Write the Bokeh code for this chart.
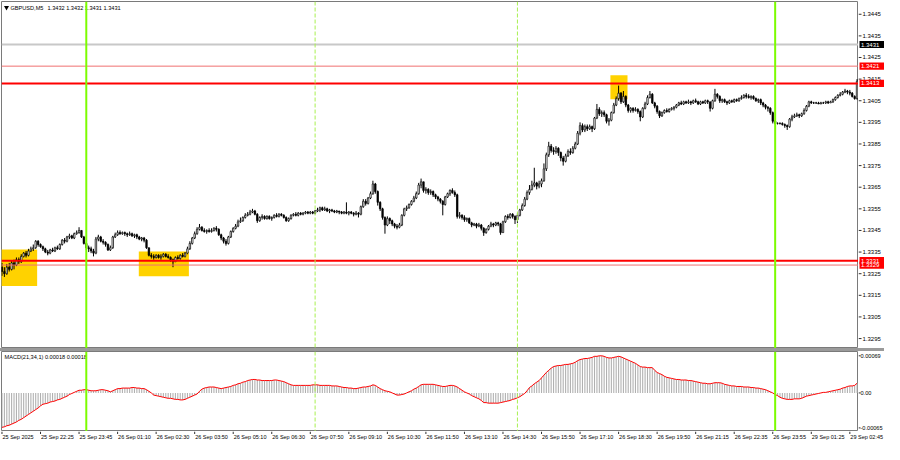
from bokeh.plotting import figure
from bokeh.layouts import column, row
from bokeh.models import ColumnDataSource, Span, Spacer
from bokeh.core.properties import value
from bokeh.embed import file_html
from bokeh.resources import INLINE

# ---------------- data (GBPUSD M5) ----------------
OPEN = [
    1.3328, 1.3326, 1.3325, 1.3328, 1.3327, 1.3330, 1.3329, 1.33315, 1.33305, 1.3333,
    1.33345, 1.33335, 1.33355, 1.33365, 1.3337, 1.3340, 1.33385, 1.33375, 1.33365, 1.3335,
    1.33345, 1.3336, 1.33355, 1.3337, 1.33365, 1.33385, 1.33405, 1.3340, 1.3342, 1.33425,
    1.33415, 1.33435, 1.3344, 1.3345, 1.3342, 1.3339, 1.3337, 1.33365, 1.33355, 1.33345,
    1.3341, 1.3342, 1.3340, 1.33395, 1.33385, 1.3336, 1.3337, 1.3342, 1.3343, 1.3344,
    1.33435, 1.3344, 1.33435, 1.3343, 1.33435, 1.33425, 1.3343, 1.3342, 1.3341, 1.33415,
    1.33405, 1.3337, 1.33335, 1.3333, 1.33325, 1.33335, 1.33325, 1.3333, 1.3334, 1.3333,
    1.33325, 1.33315, 1.33305, 1.33325, 1.3332, 1.33335, 1.3333, 1.33345, 1.33365, 1.3339,
    1.33415, 1.33435, 1.33455, 1.33465, 1.3345, 1.33445, 1.3345, 1.33445, 1.3345, 1.3346,
    1.33455, 1.3343, 1.33415, 1.3340, 1.3339, 1.3342, 1.33445, 1.3346, 1.3347, 1.3349,
    1.33495, 1.3351, 1.3352, 1.33525, 1.33535, 1.3354, 1.33525, 1.33495, 1.3351, 1.33515,
    1.33505, 1.33515, 1.33505, 1.3351, 1.3352, 1.33515, 1.33525, 1.3352, 1.3351, 1.33495,
    1.33505, 1.3352, 1.33525, 1.3352, 1.3353, 1.33525, 1.3353, 1.33535, 1.3353, 1.33535,
    1.3353, 1.3354, 1.33545, 1.33555, 1.33545, 1.3355, 1.3354, 1.33545, 1.3354, 1.33535,
    1.3354, 1.33535, 1.3353, 1.33535, 1.3353, 1.33535, 1.3353, 1.33525, 1.3353, 1.33525,
    1.3356, 1.33585, 1.33575, 1.3360, 1.3362, 1.33665, 1.3363, 1.3358, 1.3355, 1.3351,
    1.33475, 1.33505, 1.33495, 1.3348, 1.3347, 1.33465, 1.33475, 1.3352, 1.3355, 1.33555,
    1.3357, 1.33585, 1.3360, 1.3362, 1.3366, 1.33675, 1.33635, 1.3364, 1.33625, 1.3363,
    1.33615, 1.33605, 1.33595, 1.33585, 1.3357, 1.33605, 1.3362, 1.33635, 1.33625, 1.33615,
    1.33515, 1.3352, 1.3351, 1.3350, 1.33505, 1.33485, 1.33475, 1.3348, 1.3347, 1.33475,
    1.3346, 1.3344, 1.33455, 1.3347, 1.3348, 1.33475, 1.33485, 1.3348, 1.3344, 1.3349,
    1.33515, 1.3351, 1.33525, 1.33515, 1.3350, 1.3352, 1.33545, 1.33565, 1.33595, 1.33625,
    1.3364, 1.3366, 1.3367, 1.33655, 1.33665, 1.3368, 1.33735, 1.3380, 1.3384, 1.3382,
    1.33815, 1.3383, 1.3381, 1.33785, 1.3377, 1.33795, 1.33815, 1.3381, 1.3383, 1.3385,
    1.3390, 1.33935, 1.33915, 1.3393, 1.3392, 1.3393, 1.3392, 1.3397, 1.3401, 1.3399,
    1.33995, 1.33985, 1.33955, 1.3396, 1.33995, 1.3403, 1.3406, 1.34085, 1.34045, 1.3407,
    1.3403, 1.34005, 1.34015, 1.34005, 1.3401, 1.3400, 1.33975, 1.34015, 1.34035, 1.34065,
    1.3408, 1.3404, 1.34025, 1.3400, 1.3398, 1.33995, 1.34005, 1.3400, 1.3401, 1.34015,
    1.3402, 1.3403, 1.3404, 1.34035, 1.34045, 1.3404, 1.34045, 1.3404, 1.3405, 1.34045,
    1.34035, 1.34045, 1.3404, 1.3405, 1.34045, 1.34015, 1.3405, 1.3408, 1.3407, 1.3405,
    1.34055, 1.34045, 1.3404, 1.3405, 1.34045, 1.34055, 1.3405, 1.3406, 1.34065, 1.34075,
    1.3407, 1.34065, 1.3407, 1.3406, 1.3405, 1.34055, 1.3404, 1.3403, 1.3402, 1.34015,
    1.33995, 1.33955, 1.33945, 1.33945, 1.33945, 1.3394, 1.33935, 1.3393, 1.33965, 1.33975,
    1.3398, 1.33985, 1.3398, 1.3399, 1.34005, 1.34025, 1.34045, 1.3404, 1.3404, 1.3404,
    1.34035, 1.3404, 1.3404, 1.34045, 1.3404, 1.34045, 1.34055, 1.34065, 1.34075, 1.3408,
    1.3409, 1.34095, 1.3409, 1.34085, 1.3407, 1.3406,
]
HIGH = [
    1.3330, 1.3328, 1.33295, 1.3330, 1.3331, 1.33315, 1.33325, 1.33325, 1.3334, 1.3335,
    1.33355, 1.33365, 1.33375, 1.33385, 1.33405, 1.33405, 1.3339, 1.3338, 1.3337, 1.3336,
    1.33365, 1.3337, 1.33375, 1.3338, 1.3339, 1.3341, 1.33415, 1.33425, 1.33435, 1.3343,
    1.3344, 1.3345, 1.33465, 1.3345, 1.33425, 1.33395, 1.3338, 1.33375, 1.33365, 1.3342,
    1.3343, 1.33425, 1.3341, 1.3340, 1.3339, 1.3338, 1.33425, 1.3344, 1.3345, 1.3345,
    1.33445, 1.33445, 1.3344, 1.33445, 1.3344, 1.33435, 1.33435, 1.33425, 1.3342, 1.3342,
    1.3341, 1.3337, 1.33345, 1.3334, 1.3334, 1.3334, 1.3334, 1.33345, 1.33345, 1.3334,
    1.3333, 1.3332, 1.3333, 1.33335, 1.3334, 1.33345, 1.3335, 1.33375, 1.3340, 1.3342,
    1.33445, 1.33465, 1.3348, 1.3347, 1.3346, 1.33455, 1.3346, 1.3346, 1.33465, 1.3347,
    1.3346, 1.33435, 1.3342, 1.3341, 1.33425, 1.3345, 1.33465, 1.3348, 1.3350, 1.3351,
    1.33515, 1.3353, 1.33535, 1.33545, 1.3355, 1.33545, 1.3353, 1.33515, 1.33525, 1.3352,
    1.3352, 1.3352, 1.33515, 1.33525, 1.3353, 1.3353, 1.3353, 1.33525, 1.33515, 1.3351,
    1.33525, 1.3353, 1.33535, 1.33535, 1.33535, 1.33535, 1.3354, 1.3354, 1.3354, 1.3354,
    1.33545, 1.33555, 1.3356, 1.3356, 1.3356, 1.33555, 1.3355, 1.3355, 1.33545, 1.33545,
    1.3354, 1.3354, 1.3354, 1.3358, 1.3354, 1.3354, 1.33535, 1.3354, 1.33535, 1.33565,
    1.33595, 1.33595, 1.33605, 1.3363, 1.3368, 1.3367, 1.33635, 1.33585, 1.33555, 1.33515,
    1.33515, 1.3351, 1.3350, 1.33485, 1.3348, 1.33485, 1.33525, 1.33555, 1.33565, 1.33575,
    1.3359, 1.3361, 1.3363, 1.3367, 1.3369, 1.33675, 1.3365, 1.33645, 1.3364, 1.33635,
    1.3362, 1.3361, 1.3360, 1.3359, 1.3361, 1.33625, 1.3364, 1.33645, 1.33635, 1.3362,
    1.33535, 1.33525, 1.3352, 1.3351, 1.3351, 1.3349, 1.33485, 1.33485, 1.33485, 1.3348,
    1.33465, 1.3346, 1.33475, 1.3349, 1.33485, 1.3349, 1.3349, 1.33485, 1.33495, 1.3352,
    1.33525, 1.3353, 1.3353, 1.3352, 1.3353, 1.3355, 1.33575, 1.33605, 1.33635, 1.3366,
    1.3368, 1.3374, 1.33675, 1.3368, 1.3369, 1.3376, 1.3381, 1.3386, 1.3385, 1.33835,
    1.3384, 1.33835, 1.33815, 1.33795, 1.33805, 1.33825, 1.3383, 1.3384, 1.3386, 1.3391,
    1.3395, 1.33945, 1.3394, 1.3394, 1.3394, 1.33935, 1.33975, 1.34035, 1.3402, 1.34005,
    1.34005, 1.3399, 1.3397, 1.3400, 1.3404, 1.3407, 1.3412, 1.3409, 1.34095, 1.34075,
    1.34035, 1.3402, 1.3402, 1.3402, 1.34015, 1.34005, 1.3402, 1.34045, 1.34075, 1.34095,
    1.34085, 1.34045, 1.3403, 1.34005, 1.3400, 1.3401, 1.34015, 1.34015, 1.3402, 1.34025,
    1.34035, 1.34045, 1.3405, 1.3405, 1.3405, 1.34055, 1.3405, 1.34055, 1.3406, 1.3405,
    1.3405, 1.3405, 1.34055, 1.34055, 1.34045, 1.34055, 1.34105, 1.34085, 1.34075, 1.3406,
    1.3406, 1.3405, 1.34055, 1.34055, 1.3406, 1.3406, 1.34065, 1.34075, 1.3408, 1.34085,
    1.3408, 1.34075, 1.34075, 1.34065, 1.3406, 1.3406, 1.34045, 1.34035, 1.34025, 1.3402,
    1.3400, 1.3396, 1.3395, 1.3395, 1.3395, 1.33945, 1.3394, 1.3397, 1.33985, 1.3399,
    1.33995, 1.3399, 1.33995, 1.34015, 1.3403, 1.3405, 1.3405, 1.34045, 1.34045, 1.34045,
    1.34045, 1.34045, 1.3405, 1.3405, 1.3405, 1.3406, 1.3407, 1.3408, 1.3409, 1.34095,
    1.34105, 1.3410, 1.3410, 1.3409, 1.34075, 1.3415,
]
LOW = [
    1.3324, 1.33235, 1.33245, 1.3326, 1.33265, 1.3327, 1.33285, 1.33295, 1.3330, 1.33325,
    1.33325, 1.3333, 1.3335, 1.33355, 1.33365, 1.33375, 1.3337, 1.33355, 1.33345, 1.33335,
    1.3334, 1.3335, 1.3335, 1.3336, 1.3336, 1.3338, 1.3339, 1.33395, 1.3341, 1.3341,
    1.3341, 1.3343, 1.33435, 1.33415, 1.33385, 1.3336, 1.3335, 1.33345, 1.3333, 1.3334,
    1.3340, 1.33395, 1.33385, 1.33375, 1.33355, 1.33355, 1.33365, 1.33415, 1.33425, 1.3343,
    1.3343, 1.33425, 1.3342, 1.33425, 1.3342, 1.33415, 1.3341, 1.33405, 1.3340, 1.33395,
    1.33365, 1.3333, 1.3332, 1.33315, 1.3332, 1.3332, 1.33315, 1.33325, 1.33325, 1.3332,
    1.33305, 1.3328, 1.33305, 1.33315, 1.33315, 1.33325, 1.33325, 1.3334, 1.3336, 1.33385,
    1.3341, 1.3343, 1.3345, 1.33445, 1.3344, 1.33435, 1.3344, 1.3344, 1.33445, 1.33445,
    1.33425, 1.33405, 1.3339, 1.3338, 1.33385, 1.33415, 1.3344, 1.33455, 1.33465, 1.33485,
    1.3349, 1.33505, 1.33515, 1.3352, 1.3353, 1.3352, 1.33485, 1.3349, 1.3350, 1.3350,
    1.3350, 1.3350, 1.33495, 1.33505, 1.3351, 1.3351, 1.33515, 1.33505, 1.3349, 1.3349,
    1.3350, 1.33515, 1.33515, 1.33515, 1.3352, 1.3352, 1.33525, 1.33525, 1.33525, 1.33525,
    1.33525, 1.33535, 1.33535, 1.3354, 1.3354, 1.33535, 1.3353, 1.33535, 1.3353, 1.3353,
    1.33525, 1.33525, 1.33525, 1.33525, 1.3352, 1.33525, 1.33515, 1.3352, 1.3351, 1.3352,
    1.33555, 1.33565, 1.3357, 1.33595, 1.33615, 1.3362, 1.33565, 1.3354, 1.3350, 1.33435,
    1.3347, 1.3348, 1.3347, 1.3346, 1.33455, 1.3346, 1.3347, 1.33515, 1.3354, 1.3355,
    1.33565, 1.3358, 1.33595, 1.33615, 1.33645, 1.33625, 1.3362, 1.33615, 1.33615, 1.33605,
    1.33595, 1.33585, 1.33575, 1.3352, 1.33565, 1.3360, 1.3361, 1.3362, 1.33605, 1.33505,
    1.33505, 1.3350, 1.3349, 1.3349, 1.3348, 1.33465, 1.3347, 1.3346, 1.33465, 1.3345,
    1.33425, 1.33435, 1.3345, 1.33465, 1.33465, 1.3347, 1.3347, 1.3343, 1.3344, 1.33485,
    1.3350, 1.33505, 1.33505, 1.3348, 1.33485, 1.33515, 1.3354, 1.3356, 1.3359, 1.33615,
    1.33635, 1.3365, 1.3364, 1.33645, 1.3365, 1.33675, 1.33725, 1.3379, 1.3381, 1.3380,
    1.33805, 1.33795, 1.3377, 1.3375, 1.33765, 1.3379, 1.3380, 1.33805, 1.33825, 1.33845,
    1.3389, 1.33905, 1.33905, 1.3391, 1.33915, 1.33905, 1.33915, 1.33965, 1.3398, 1.33975,
    1.33975, 1.33945, 1.33935, 1.33955, 1.3399, 1.34025, 1.3405, 1.34035, 1.3404, 1.3402,
    1.33995, 1.33995, 1.33995, 1.3400, 1.3399, 1.33955, 1.3397, 1.3401, 1.3403, 1.3406,
    1.34035, 1.34015, 1.3399, 1.3397, 1.33975, 1.3399, 1.33995, 1.33995, 1.34005, 1.34005,
    1.34015, 1.34025, 1.3403, 1.3403, 1.34035, 1.34035, 1.3403, 1.34035, 1.3404, 1.3403,
    1.3403, 1.34035, 1.34035, 1.34035, 1.3400, 1.3401, 1.34045, 1.3406, 1.3404, 1.3404,
    1.3404, 1.3403, 1.34035, 1.3404, 1.3404, 1.34045, 1.34045, 1.34055, 1.3406, 1.3406,
    1.3406, 1.34055, 1.34055, 1.34045, 1.3404, 1.3403, 1.3402, 1.3401, 1.3400, 1.33985,
    1.33945, 1.3394, 1.3394, 1.3394, 1.33935, 1.33925, 1.33915, 1.33925, 1.33955, 1.3397,
    1.33975, 1.3397, 1.33975, 1.33985, 1.3400, 1.3402, 1.34035, 1.34035, 1.34035, 1.34035,
    1.34035, 1.34035, 1.34035, 1.34035, 1.3404, 1.3404, 1.3405, 1.3406, 1.3407, 1.34075,
    1.34085, 1.3408, 1.34075, 1.34065, 1.34055, 1.34055,
]
CLOSE = [
    1.3326, 1.3325, 1.3328, 1.3327, 1.3330, 1.3329, 1.33315, 1.33305, 1.3333, 1.33345,
    1.33335, 1.33355, 1.33365, 1.3337, 1.3340, 1.33385, 1.33375, 1.33365, 1.3335, 1.33345,
    1.3336, 1.33355, 1.3337, 1.33365, 1.33385, 1.33405, 1.3340, 1.3342, 1.33425, 1.33415,
    1.33435, 1.3344, 1.3345, 1.3342, 1.3339, 1.3337, 1.33365, 1.33355, 1.33345, 1.3341,
    1.3342, 1.3340, 1.33395, 1.33385, 1.3336, 1.3337, 1.3342, 1.3343, 1.3344, 1.33435,
    1.3344, 1.33435, 1.3343, 1.33435, 1.33425, 1.3343, 1.3342, 1.3341, 1.33415, 1.33405,
    1.3337, 1.33335, 1.3333, 1.33325, 1.33335, 1.33325, 1.3333, 1.3334, 1.3333, 1.33325,
    1.33315, 1.33305, 1.33325, 1.3332, 1.33335, 1.3333, 1.33345, 1.33365, 1.3339, 1.33415,
    1.33435, 1.33455, 1.33465, 1.3345, 1.33445, 1.3345, 1.33445, 1.3345, 1.3346, 1.33455,
    1.3343, 1.33415, 1.3340, 1.3339, 1.3342, 1.33445, 1.3346, 1.3347, 1.3349, 1.33495,
    1.3351, 1.3352, 1.33525, 1.33535, 1.3354, 1.33525, 1.33495, 1.3351, 1.33515, 1.33505,
    1.33515, 1.33505, 1.3351, 1.3352, 1.33515, 1.33525, 1.3352, 1.3351, 1.33495, 1.33505,
    1.3352, 1.33525, 1.3352, 1.3353, 1.33525, 1.3353, 1.33535, 1.3353, 1.33535, 1.3353,
    1.3354, 1.33545, 1.33555, 1.33545, 1.3355, 1.3354, 1.33545, 1.3354, 1.33535, 1.3354,
    1.33535, 1.3353, 1.33535, 1.3353, 1.33535, 1.3353, 1.33525, 1.3353, 1.33525, 1.3356,
    1.33585, 1.33575, 1.3360, 1.3362, 1.33665, 1.3363, 1.3358, 1.3355, 1.3351, 1.33475,
    1.33505, 1.33495, 1.3348, 1.3347, 1.33465, 1.33475, 1.3352, 1.3355, 1.33555, 1.3357,
    1.33585, 1.3360, 1.3362, 1.3366, 1.33675, 1.33635, 1.3364, 1.33625, 1.3363, 1.33615,
    1.33605, 1.33595, 1.33585, 1.3357, 1.33605, 1.3362, 1.33635, 1.33625, 1.33615, 1.33515,
    1.3352, 1.3351, 1.3350, 1.33505, 1.33485, 1.33475, 1.3348, 1.3347, 1.33475, 1.3346,
    1.3344, 1.33455, 1.3347, 1.3348, 1.33475, 1.33485, 1.3348, 1.3344, 1.3349, 1.33515,
    1.3351, 1.33525, 1.33515, 1.3350, 1.3352, 1.33545, 1.33565, 1.33595, 1.33625, 1.3364,
    1.3366, 1.3367, 1.33655, 1.33665, 1.3368, 1.33735, 1.3380, 1.3384, 1.3382, 1.33815,
    1.3383, 1.3381, 1.33785, 1.3377, 1.33795, 1.33815, 1.3381, 1.3383, 1.3385, 1.3390,
    1.33935, 1.33915, 1.3393, 1.3392, 1.3393, 1.3392, 1.3397, 1.3401, 1.3399, 1.33995,
    1.33985, 1.33955, 1.3396, 1.33995, 1.3403, 1.3406, 1.34085, 1.34045, 1.3407, 1.3403,
    1.34005, 1.34015, 1.34005, 1.3401, 1.3400, 1.33975, 1.34015, 1.34035, 1.34065, 1.3408,
    1.3404, 1.34025, 1.3400, 1.3398, 1.33995, 1.34005, 1.3400, 1.3401, 1.34015, 1.3402,
    1.3403, 1.3404, 1.34035, 1.34045, 1.3404, 1.34045, 1.3404, 1.3405, 1.34045, 1.34035,
    1.34045, 1.3404, 1.3405, 1.34045, 1.34015, 1.3405, 1.3408, 1.3407, 1.3405, 1.34055,
    1.34045, 1.3404, 1.3405, 1.34045, 1.34055, 1.3405, 1.3406, 1.34065, 1.34075, 1.3407,
    1.34065, 1.3407, 1.3406, 1.3405, 1.34055, 1.3404, 1.3403, 1.3402, 1.34015, 1.33995,
    1.33955, 1.33945, 1.33945, 1.33945, 1.3394, 1.33935, 1.3393, 1.33965, 1.33975, 1.3398,
    1.33985, 1.3398, 1.3399, 1.34005, 1.34025, 1.34045, 1.3404, 1.3404, 1.3404, 1.34035,
    1.3404, 1.3404, 1.34045, 1.3404, 1.34045, 1.34055, 1.34065, 1.34075, 1.3408, 1.3409,
    1.34095, 1.3409, 1.34085, 1.3407, 1.3406, 1.3414,
]
# MACD(21,34,1) main value, in units of 0.00001
MACD_E5 = [
    -64, -63, -61, -60, -58, -56, -54, -51, -49, -46,
    -43, -40, -37, -34, -31, -28, -24, -21, -20, -19,
    -17, -16, -15, -13, -12, -10, -8, -6, -3, -1,
    1, 3, 5, 5, 6, 6, 5, 4, 4, 4,
    5, 6, 6, 5, 4, 2, 4, 6, 8, 8,
    9, 9, 9, 9, 10, 10, 9, 9, 8, 8,
    6, 3, 0, -4, -5, -6, -7, -8, -9, -10,
    -10, -11, -12, -12, -13, -13, -12, -10, -8, -6,
    -4, -2, 3, 7, 9, 10, 11, 11, 11, 10,
    9, 8, 9, 10, 11, 12, 14, 15, 17, 18,
    20, 21, 23, 24, 25, 25, 24, 24, 23, 23,
    23, 23, 23, 24, 24, 23, 22, 21, 19, 17,
    15, 14, 14, 14, 14, 14, 14, 14, 14, 15,
    15, 15, 14, 14, 14, 14, 14, 13, 13, 13,
    12, 11, 10, 10, 9, 9, 8, 8, 9, 10,
    11, 11, 12, 13, 15, 14, 11, 8, 6, 4,
    3, 2, 0, -2, -4, -4, -3, -2, 0, 2,
    4, 7, 9, 12, 15, 16, 16, 16, 16, 16,
    15, 14, 13, 12, 12, 13, 14, 14, 13, 11,
    8, 5, 2, 0, -2, -5, -7, -9, -11, -14,
    -18, -18, -19, -19, -19, -19, -19, -18, -17, -16,
    -15, -14, -12, -11, -9, -7, -4, -1, 4, 10,
    13, 17, 20, 23, 28, 33, 38, 42, 46, 49,
    50, 51, 51, 52, 53, 53, 54, 55, 57, 60,
    62, 63, 64, 64, 65, 66, 68, 68, 69, 69,
    68, 66, 65, 65, 66, 67, 68, 67, 65, 63,
    61, 59, 57, 55, 52, 49, 48, 48, 47, 47,
    47, 42, 38, 36, 34, 31, 29, 28, 27, 26,
    25, 25, 24, 24, 24, 23, 23, 22, 21, 20,
    19, 18, 18, 17, 17, 18, 19, 19, 19, 18,
    16, 15, 14, 13, 13, 12, 12, 12, 11, 11,
    11, 10, 10, 9, 9, 8, 7, 6, 4, 2,
    0, -3, -5, -8, -10, -11, -12, -12, -12, -11,
    -11, -11, -10, -8, -6, -5, -4, -3, -2, -1,
    0, 1, 1, 2, 3, 4, 5, 6, 7, 9,
    10, 12, 13, 13, 14, 18,
]

TIME_LABEL_BARS = [0, 16, 32, 48, 64, 80, 96, 112, 128, 144, 160, 176, 192, 208, 224,
                   240, 256, 272, 288, 304, 320, 336, 352]
TIME_LABELS = ["25 Sep 2025", "25 Sep 22:25", "25 Sep 23:45", "26 Sep 01:10", "26 Sep 02:30",
               "26 Sep 03:50", "26 Sep 05:10", "26 Sep 06:30", "26 Sep 07:50", "26 Sep 09:10",
               "26 Sep 10:30", "26 Sep 11:50", "26 Sep 13:10", "26 Sep 14:30", "26 Sep 15:50",
               "26 Sep 17:10", "26 Sep 18:30", "26 Sep 19:50", "26 Sep 21:15", "26 Sep 22:35",
               "26 Sep 23:55", "29 Sep 01:25", "29 Sep 02:45"]
PRICE_TICKS = [1.3295, 1.3305, 1.3315, 1.3325, 1.3335, 1.3345, 1.3355, 1.3365, 1.3375,
               1.3385, 1.3395, 1.3405, 1.3415, 1.3425, 1.3435, 1.3445]
PRICE_TICK_TEXT = ["1.3295", "1.3305", "1.3315", "1.3325", "1.3335", "1.3345", "1.3355",
                   "1.3365", "1.3375", "1.3385", "1.3395", "1.3405", "1.3415", "1.3425",
                   "1.3435", "1.3445"]
MACD_TICKS = [-0.00065, 0.0, 0.00069]
MACD_TICK_TEXT = ["-0.00065", "0.00", "0.00069"]

LEVEL_PRICES = [1.3431, 1.3421, 1.3413, 1.3331, 1.3329]
LEVEL_TEXT = ["1.3431", "1.3421", "1.3413", "1.3331", "1.3329"]
LEVEL_LINE_COLORS = ["#c8c8c8", "#f07070", "#ff0000", "#ff0000", "#f07070"]
LEVEL_LINE_WIDTHS = [2, 1, 2, 2, 1]
LEVEL_TAG_COLORS = ["#000000", "#ff0000", "#ff0000", "#ff0000", "#ff0000"]

DAY_BARS = [35, 321]
SESSION_BARS = [130, 214]

BOX_LEFT = [-0.3, 56.8, 252.6]
BOX_RIGHT = [14.6, 77.6, 259.7]
BOX_TOP = [1.33362, 1.33353, 1.34168]
BOX_BOTTOM = [1.33193, 1.33238, 1.34057]

HEADER_SYMBOL = "GBPUSD,M5"
HEADER_QUOTES = "1.3432 1.3432 1.3431 1.3431"
MACD_TITLE = "MACD(21,34,1) 0.00018 0.00018"

# ---------------- layout constants ----------------
FONT = value("Liberation Sans")
FS = value("6px")
FS_SMALL = value("5.6px")
FS_TIME = value("5.5px")
FRAME_W = 857          # plot area width (px)
AXIS_W = 26            # price-scale strip width (px)
MAIN_H = 347
MACD_H = 80
TIME_H = 13
X_RANGE = (-0.2, 355.6)
PX_PER_BAR = FRAME_W / (X_RANGE[1] - X_RANGE[0])
PRICE_RANGE = (1.32904, 1.34509)
MACD_RANGE = (-0.000717, 0.00077)
FRAME_COLOR = "#7a7a7a"
TAG_HALF = 3.6 * (PRICE_RANGE[1] - PRICE_RANGE[0]) / MAIN_H

n = len(CLOSE)
assert len(OPEN) == n and len(HIGH) == n and len(LOW) == n and len(MACD_E5) == n, \
    (len(OPEN), len(HIGH), len(LOW), len(CLOSE), len(MACD_E5))
bars = list(range(n))
body_top = [max(o, c) for o, c in zip(OPEN, CLOSE)]
body_bot = [min(o, c) for o, c in zip(OPEN, CLOSE)]
body_fill = ["#ffffff" if c >= o else "#000000" for o, c in zip(OPEN, CLOSE)]
macd = [v * 1e-5 for v in MACD_E5]


def bare(fig, outline=True):
    fig.grid.visible = False
    fig.outline_line_color = FRAME_COLOR if outline else None
    fig.background_fill_color = "white"
    fig.border_fill_color = "white"
    return fig


def make_fig(**kw):
    return figure(output_backend="svg", toolbar_location=None,
                  x_axis_location=None, y_axis_location=None, **kw)


# ---------------- main price panel ----------------
p1 = bare(make_fig(frame_width=FRAME_W, frame_height=MAIN_H, x_range=X_RANGE,
                   y_range=PRICE_RANGE, min_border_left=1, min_border_right=0,
                   min_border_top=1, min_border_bottom=0))

p1.quad(left=BOX_LEFT, right=BOX_RIGHT, top=BOX_TOP, bottom=BOX_BOTTOM,
        fill_color="#ffd200", line_color=None)

src = ColumnDataSource(dict(x=bars, h=HIGH, l=LOW, top=body_top, bot=body_bot, fill=body_fill))
p1.segment(x0="x", y0="l", x1="x", y1="h", source=src, line_color="#000000", line_width=1)
p1.vbar(x="x", top="top", bottom="bot", width=0.62, source=src,
        fill_color="fill", line_color="#000000", line_width=0.7)

for price, col, lw in zip(LEVEL_PRICES, LEVEL_LINE_COLORS, LEVEL_LINE_WIDTHS):
    p1.add_layout(Span(location=price, dimension="width", line_color=col, line_width=lw))

hdr_y = PRICE_RANGE[1] - 6 * (PRICE_RANGE[1] - PRICE_RANGE[0]) / MAIN_H
p1.scatter(x=[X_RANGE[0] + 5 / PX_PER_BAR], y=[hdr_y], marker="inverted_triangle", size=5,
           fill_color="#000000", line_color=None)
p1.text(x=[X_RANGE[0], X_RANGE[0]], y=[hdr_y, hdr_y], text=[HEADER_SYMBOL, HEADER_QUOTES],
        x_offset=[9, 46], text_font=FONT, text_font_size=FS_SMALL, text_baseline="middle",
        text_color="#000000")

# price scale strip
a1 = bare(make_fig(frame_width=AXIS_W, frame_height=MAIN_H, x_range=(0, AXIS_W),
                   y_range=p1.y_range, min_border_left=0, min_border_right=0,
                   min_border_top=1, min_border_bottom=0), outline=False)
a1.segment(x0=[0] * len(PRICE_TICKS), x1=[3] * len(PRICE_TICKS), y0=PRICE_TICKS,
           y1=PRICE_TICKS, line_color="#303030", line_width=1)
a1.text(x=[4] * len(PRICE_TICKS), y=PRICE_TICKS, text=PRICE_TICK_TEXT, text_font=FONT,
        text_font_size=FS, text_baseline="middle", text_color="#000000")
a1.quad(left=[1] * len(LEVEL_PRICES), right=[AXIS_W] * len(LEVEL_PRICES),
        top=[v + TAG_HALF for v in LEVEL_PRICES], bottom=[v - TAG_HALF for v in LEVEL_PRICES],
        fill_color=LEVEL_TAG_COLORS, line_color=None)
a1.text(x=[2.5] * len(LEVEL_PRICES), y=LEVEL_PRICES, text=LEVEL_TEXT, text_font=FONT,
        text_font_size=FS, text_baseline="middle", text_color="#ffffff")

# ---------------- MACD panel ----------------
p2 = bare(make_fig(frame_width=FRAME_W, frame_height=MACD_H, x_range=p1.x_range,
                   y_range=MACD_RANGE, min_border_left=1, min_border_right=0,
                   min_border_top=0, min_border_bottom=0))
p2.vbar(x=bars, top=macd, bottom=0, width=0.45, fill_color="#b0b0b0", line_color=None)
p2.line(bars, macd, line_color="#ff0000", line_width=1)
title_y = MACD_RANGE[1] - 5 * (MACD_RANGE[1] - MACD_RANGE[0]) / MACD_H
p2.text(x=[X_RANGE[0]], y=[title_y], text=[MACD_TITLE], x_offset=3, text_font=FONT,
        text_font_size=FS_SMALL, text_baseline="middle", text_color="#000000")

a2 = bare(make_fig(frame_width=AXIS_W, frame_height=MACD_H, x_range=(0, AXIS_W),
                   y_range=p2.y_range, min_border_left=0, min_border_right=0,
                   min_border_top=0, min_border_bottom=0), outline=False)
a2.segment(x0=[0] * 3, x1=[2] * 3, y0=MACD_TICKS, y1=MACD_TICKS, line_color="#303030")
a2.text(x=[2] * 3, y=MACD_TICKS, text=MACD_TICK_TEXT, text_font=FONT,
        text_font_size=FS_SMALL, text_baseline="middle", text_color="#000000")

# vertical separators on both panels
for fig in (p1, p2):
    for b in DAY_BARS:
        fig.add_layout(Span(location=b, dimension="height", line_color="#7cfc00", line_width=2))
    for b in SESSION_BARS:
        fig.add_layout(Span(location=b, dimension="height", line_color="#a8f050",
                            line_width=1, line_dash="4 2"))

# ---------------- time scale strip (full width) ----------------
t_start = X_RANGE[0] - 1 / PX_PER_BAR
t_end = t_start + (FRAME_W + 1 + AXIS_W) / PX_PER_BAR
t = bare(make_fig(frame_width=FRAME_W + 1 + AXIS_W, frame_height=TIME_H,
                  x_range=(t_start, t_end), y_range=(0, TIME_H),
                  min_border_left=0, min_border_right=0, min_border_top=0,
                  min_border_bottom=0), outline=False)
t.segment(x0=TIME_LABEL_BARS, x1=TIME_LABEL_BARS, y0=[TIME_H] * len(TIME_LABEL_BARS),
          y1=[TIME_H - 2.5] * len(TIME_LABEL_BARS), line_color="#303030")
t.text(x=TIME_LABEL_BARS, y=[TIME_H - 2.5] * len(TIME_LABEL_BARS), text=TIME_LABELS,
       x_offset=0.5, text_font=FONT, text_font_size=FS_TIME, text_baseline="top",
       text_align="left", text_color="#000000")

sep = Spacer(width=FRAME_W + 1 + AXIS_W, height=3, styles={"background-color": "#9a9a9a"})
layout = column(row(p1, a1, spacing=0), sep, row(p2, a2, spacing=0), t, spacing=0)

with open("out.html", "w") as f:
    f.write(file_html(layout, INLINE))
